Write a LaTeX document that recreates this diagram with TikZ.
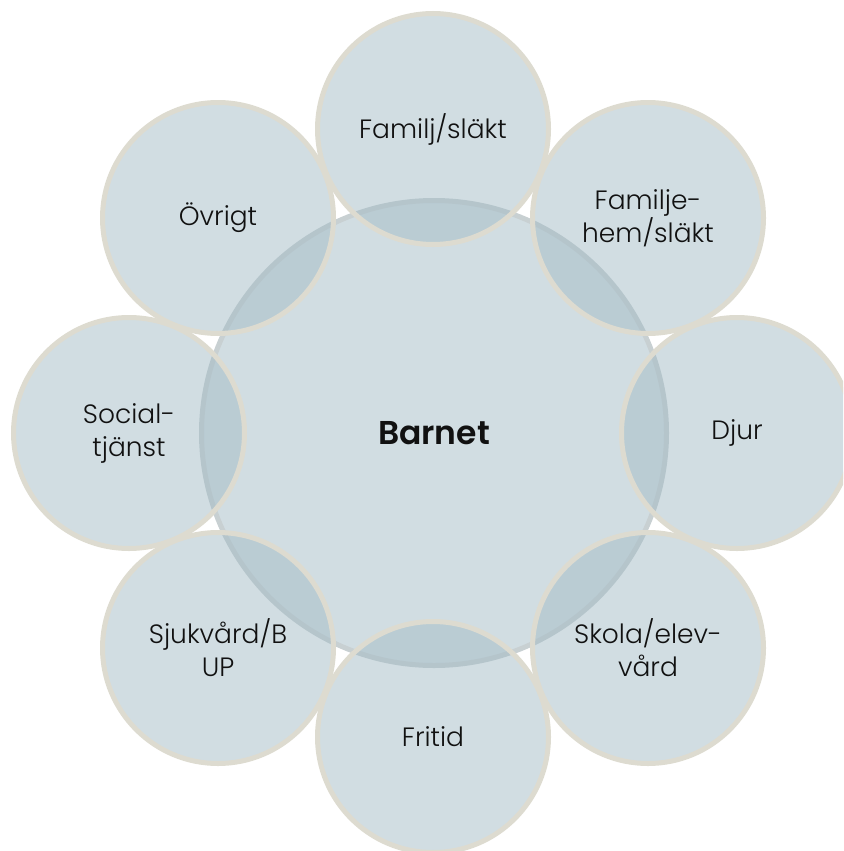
\documentclass[tikz,border=0pt]{standalone}
\usepackage{fontspec}
\setmainfont{Poppins}[UprightFont=* Light, BoldFont=* SemiBold]
\definecolor{cfill}{HTML}{A3BBC5}
\definecolor{cring}{HTML}{DDDBD0}
\definecolor{cmid}{HTML}{C8D0D2}
\definecolor{ctext}{HTML}{111111}
\begin{document}
\begin{tikzpicture}[x=1pt,y=-1pt,
  ball/.style={circle, minimum size=231pt, inner sep=0pt, fill=cfill, fill opacity=0.5, text opacity=1,
    draw=cring, line width=5pt, font=\fontsize{26.5}{33}\selectfont, align=center, text=ctext},
  hub/.style={circle, minimum size=465pt, inner sep=0pt, fill=cfill, fill opacity=0.5, text opacity=1,
    draw=cmid, line width=5pt, font=\fontsize{33}{38}\selectfont\bfseries, text=ctext}]
\useasboundingbox (0,0) rectangle (843,851);
\clip (0,0) rectangle (843,851);
\node[hub] (barnet) at (434,433) {Barnet};
\node[ball] (familj) at (433,129) {Familj/släkt};
\node[ball] (familjehem) at (648,218) {Familje-\\hem/släkt};
\node[ball] (djur) at (737,433) {Djur};
\node[ball] (skola) at (648,648) {Skola/elev-\\vård};
\node[ball] (fritid) at (433,737) {Fritid};
\node[ball] (sjukvard) at (218,648) {Sjukvård/B\\UP};
\node[ball] (social) at (129,433) {Social-\\tjänst};
\node[ball] (ovrigt) at (218,218) {Övrigt};
\end{tikzpicture}
\end{document}
